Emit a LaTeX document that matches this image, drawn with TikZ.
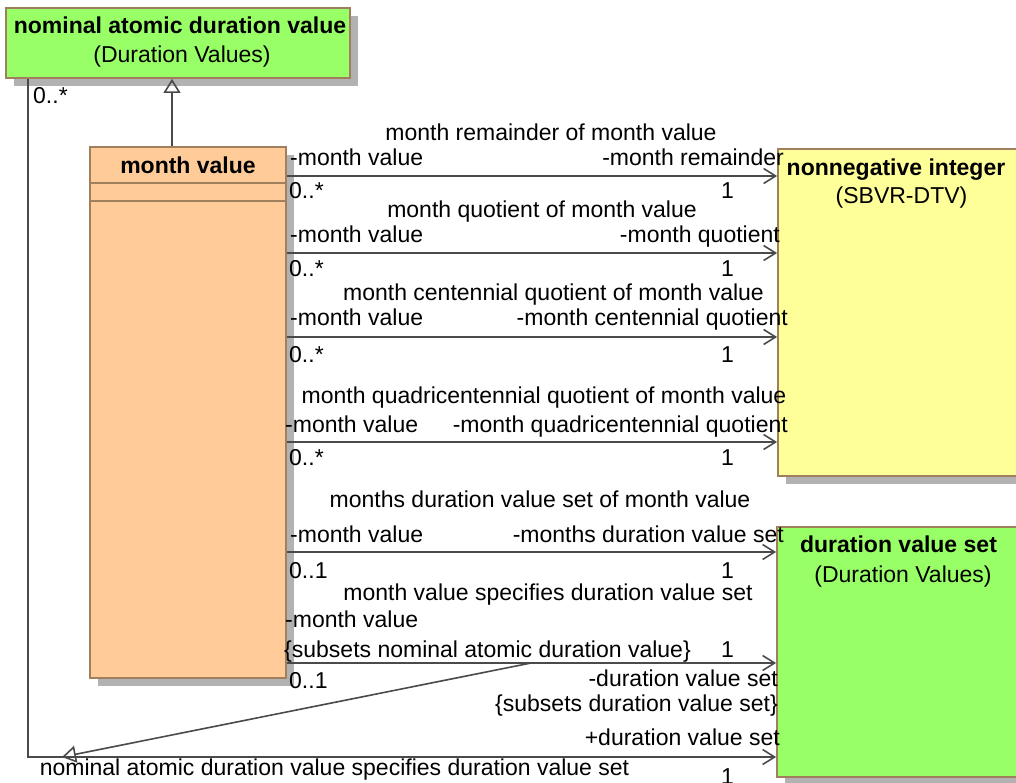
\documentclass[tikz,border=0pt]{standalone}
\usepackage{fontspec}
\setmainfont{Liberation Sans}
\usetikzlibrary{arrows.meta,shadows}
\definecolor{umlgreen}{HTML}{99FF66}
\definecolor{umlyellow}{HTML}{FFFF99}
\definecolor{umlpeach}{HTML}{FFCC99}
\definecolor{umlborder}{HTML}{A07F5C}
\definecolor{umlline}{HTML}{4A4A4A}
\tikzset{
  classbox/.style={draw=umlborder,line width=1.8pt,rectangle,inner sep=0pt,
    drop shadow={shadow xshift=8pt,shadow yshift=-8pt,fill=black!30,opacity=1}},
  lbl/.style={inner sep=0pt,font=\fontsize{23}{27}\selectfont},
  assoc/.style={draw=umlline,line width=1.6pt,->},
  gen/.style={draw=umlline,line width=1.6pt,-{Triangle[open,length=14pt,width=17pt]}}
}
\begin{document}
\begin{tikzpicture}[x=1pt,y=-1pt,>={Straight Barb[length=12pt,width=15pt]}]
	  \clip (0,0) rectangle (1016,782);
	  % classes
	  \node[classbox,fill=umlgreen,minimum width=344pt,minimum height=70pt] (nadv) at (178,43) {};
	  \node[classbox,fill=umlpeach,minimum width=196pt,minimum height=531pt] (mv) at (188,412.5) {};
	  \node[classbox,fill=umlyellow,minimum width=262pt,minimum height=327pt] (nni) at (909,312.5) {};
	  \node[classbox,fill=umlgreen,minimum width=263pt,minimum height=250pt] (dvs) at (908.5,652) {};
	  \draw[umlborder,line width=1.5pt] (mv.west |- 0,183) -- (mv.east |- 0,183);
	  \draw[umlborder,line width=1.5pt] (mv.west |- 0,201) -- (mv.east |- 0,201);
	  \node[lbl,anchor=base] (nadvname) at (180,33) {\textbf{nominal atomic duration value}};
	  \node[lbl,anchor=base] (nadvpkg) at (182,62) {(Duration Values)};
	  \node[lbl,anchor=base] (mvname) at (188,173) {\textbf{month value}};
	  \node[lbl,anchor=base] (nniname) at (896,175) {\textbf{nonnegative integer}};
	  \node[lbl,anchor=base] (nnipkg) at (901.5,203) {(SBVR-DTV)};
	  \node[lbl,anchor=base] (dvsname) at (898.5,552) {\textbf{duration value set}};
	  \node[lbl,anchor=base] (dvspkg) at (903,582) {(Duration Values)};
	  % generalization and the long association
	  \coordinate (genx) at (172,0);
	  \draw[gen] (mv.north -| genx) -- (nadv.south -| genx);
	  \coordinate (bend) at (28,757);
	  \draw[assoc] (nadv.south -| bend) -- (bend) -- (dvs.west |- bend);
	  \node[lbl,anchor=base west] (topmult) at (33,103) {0..*};
	  % associations
	  \draw[assoc] (mv.east |- 0,176) -- (nni.west |- 0,176);
	  \node[lbl,anchor=base] (r1title) at (551,140) {month remainder of month value};
	  \node[lbl,anchor=base west] (r1src) at (290,165) {-month value};
	  \node[lbl,anchor=base east] (r1tgt) at (784,165) {-month remainder};
	  \node[lbl,anchor=base west] (r1srcm) at (289,198) {0..*};
	  \node[lbl,anchor=base west] (r1tgtm) at (721,198) {1};
	  \draw[assoc] (mv.east |- 0,253) -- (nni.west |- 0,253);
	  \node[lbl,anchor=base] (r2title) at (542,217) {month quotient of month value};
	  \node[lbl,anchor=base west] (r2src) at (290,242) {-month value};
	  \node[lbl,anchor=base east] (r2tgt) at (780,242) {-month quotient};
	  \node[lbl,anchor=base west] (r2srcm) at (289,276) {0..*};
	  \node[lbl,anchor=base west] (r2tgtm) at (721,276) {1};
	  \draw[assoc] (mv.east |- 0,337) -- (nni.west |- 0,337);
	  \node[lbl,anchor=base] (r3title) at (553.5,300) {month centennial quotient of month value};
	  \node[lbl,anchor=base west] (r3src) at (290,325) {-month value};
	  \node[lbl,anchor=base east] (r3tgt) at (788,325) {-month centennial quotient};
	  \node[lbl,anchor=base west] (r3srcm) at (289,362) {0..*};
	  \node[lbl,anchor=base west] (r3tgtm) at (721,362) {1};
	  \draw[assoc] (mv.east |- 0,442) -- (nni.west |- 0,442);
	  \node[lbl,anchor=base] (r4title) at (544,403) {month quadricentennial quotient of month value};
	  \node[lbl,anchor=base west] (r4src) at (285,432) {-month value};
	  \node[lbl,anchor=base east] (r4tgt) at (788,432) {-month quadricentennial quotient};
	  \node[lbl,anchor=base west] (r4srcm) at (289,465) {0..*};
	  \node[lbl,anchor=base west] (r4tgtm) at (721,465) {1};
	  \draw[assoc] (mv.east |- 0,552) -- (dvs.west |- 0,552);
	  \node[lbl,anchor=base] (r5title) at (540,507) {months duration value set of month value};
	  \node[lbl,anchor=base west] (r5src) at (290,542) {-month value};
	  \node[lbl,anchor=base east] (r5tgt) at (784,542) {-months duration value set};
	  \node[lbl,anchor=base west] (r5srcm) at (289,578) {0..1};
	  \node[lbl,anchor=base west] (r5tgtm) at (721,578) {1};
	  \draw[assoc] (mv.east |- 0,663) -- (dvs.west |- 0,663);
	  \node[lbl,anchor=base] (r6title) at (548,600) {month value specifies duration value set};
	  \node[lbl,anchor=base west] (r6src) at (285,627) {-month value};
	  \node[lbl,anchor=base west] (r6srcsub) at (284,657) {\{subsets nominal atomic duration value\}};
	  \node[lbl,anchor=base west] (r6tgtm) at (721,657) {1};
	  \node[lbl,anchor=base west] (r6srcm) at (289,688) {0..1};
	  \node[lbl,anchor=base east] (r6tgt) at (778,686) {-duration value set};
	  \node[lbl,anchor=base east] (r6tgtsub) at (778,711) {\{subsets duration value set\}};
	  \node[lbl,anchor=base east] (r7tgt) at (780,745) {+duration value set};
	  \node[lbl,anchor=base] (r7title) at (334.5,775) {nominal atomic duration value specifies duration value set};
	  \node[lbl,anchor=base west] (r7tgtm) at (721,784) {1};
	  % subsetting between the two associations
	  \coordinate (subsetpt) at (531,663);
	  \coordinate (gentip) at (62,757);
	  \draw[gen] (subsetpt) -- (gentip);
	\end{tikzpicture}
\end{document}
